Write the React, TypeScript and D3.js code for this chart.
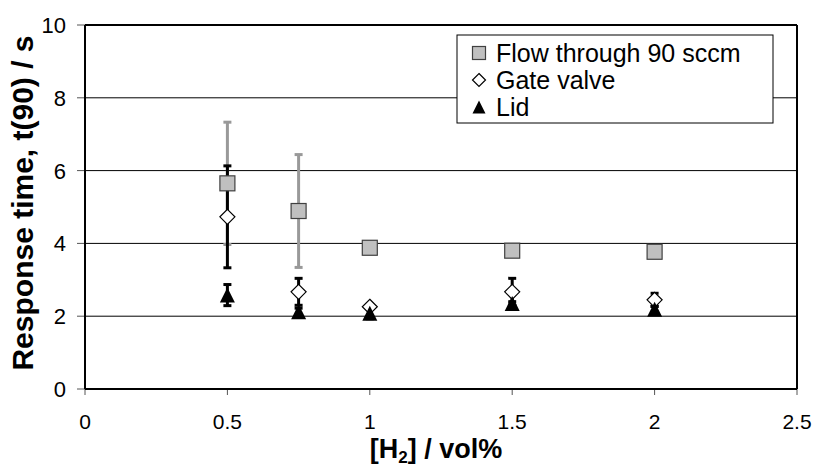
import * as d3 from 'd3';

// [H2] concentrations (vol%)
const xVals = [0.5, 0.75, 1, 1.5, 2];
// response time t(90) / s, with ± error
const flowVals = [5.65, 4.89, 3.88, 3.8, 3.77];
const flowErr = [1.68, 1.55, 0.04, 0.04, 0.04];
const gateVals = [4.73, 2.67, 2.26, 2.67, 2.45];
const gateErr = [1.4, 0.37, 0.05, 0.37, 0.18];
const lidVals = [2.58, 2.12, 2.08, 2.35, 2.19];
const lidErr = [0.29, 0.1, 0.15, 0.05, 0.08];

const xTicks = [0, 0.5, 1, 1.5, 2, 2.5];
const yTicks = [0, 2, 4, 6, 8, 10];
const legendLabels = ['Flow through 90 sccm', 'Gate valve', 'Lid'];

const W = 818;
const H = 468;
const left = 85, right = 797, top = 25, bottom = 389;
const font = "'Liberation Sans', Arial, Helvetica, sans-serif";

const x = d3.scaleLinear().domain([0, 2.5]).range([left, right]);
const y = d3.scaleLinear().domain([0, 10]).range([bottom, top]);

function ErrorBars({ vals, errs, color }: { vals: number[]; errs: number[]; color: string }) {
  return (
    <g stroke={color} strokeWidth={3}>
      {xVals.map((xv, i) => {
        const cx = x(xv);
        const y1 = y(vals[i] + errs[i]);
        const y2 = y(vals[i] - errs[i]);
        return (
          <g key={i}>
            <line x1={cx} x2={cx} y1={y1} y2={y2} />
            <line x1={cx - 4} x2={cx + 4} y1={y1} y2={y1} />
            <line x1={cx - 4} x2={cx + 4} y1={y2} y2={y2} />
          </g>
        );
      })}
    </g>
  );
}

const square = (cx: number, cy: number, s: number) => (
  <rect x={cx - s / 2} y={cy - s / 2} width={s} height={s} fill="#c0c0c0" stroke="#404040" strokeWidth={1.2} />
);
const diamond = (cx: number, cy: number, s: number) => (
  <path
    d={`M${cx},${cy - s / 2}L${cx + s / 2},${cy}L${cx},${cy + s / 2}L${cx - s / 2},${cy}Z`}
    fill="#fff"
    stroke="#000"
    strokeWidth={1.2}
  />
);
const triangle = (cx: number, cy: number, s: number) => (
  <path d={`M${cx},${cy - s / 2}L${cx + s / 2},${cy + s / 2}L${cx - s / 2},${cy + s / 2}Z`} fill="#000" />
);

export default function App() {
  const legendX = 457, legendY = 35;
  const rowBase = [62, 89, 116];
  const markers = [square, diamond, triangle];

  return (
    <svg width={W} height={H} style={{ position: 'absolute', left: 0, top: 0, background: '#fff' }} fontFamily={font}>
      {/* gridlines */}
      {yTicks.slice(1, -1).map(t => (
        <line key={t} x1={left} x2={right} y1={y(t)} y2={y(t)} stroke="#000" strokeWidth={1} />
      ))}
      {/* plot frame */}
      <line x1={left} x2={right} y1={top} y2={top} stroke="#000" strokeWidth={2} />
      <line x1={right} x2={right} y1={top} y2={bottom} stroke="#000" strokeWidth={2} />

      {/* ticks */}
      {yTicks.map(t => (
        <g key={t}>
          <line x1={left - 8} x2={left} y1={y(t)} y2={y(t)} stroke="#555" strokeWidth={1} />
          <text x={66} y={y(t) + 8} textAnchor="end" fontSize={22}>{t}</text>
        </g>
      ))}
      {xTicks.map(t => (
        <g key={t}>
          <line x1={x(t)} x2={x(t)} y1={bottom} y2={bottom + 6} stroke="#555" strokeWidth={1} />
          <text x={x(t)} y={429} textAnchor="middle" fontSize={21}>{t}</text>
        </g>
      ))}
      <line x1={left} x2={left} y1={top} y2={bottom} stroke="#000" strokeWidth={2} />
      <line x1={left} x2={right} y1={bottom} y2={bottom} stroke="#000" strokeWidth={2} />

      {/* error bars */}
      <ErrorBars vals={flowVals} errs={flowErr} color="#999999" />
      <ErrorBars vals={gateVals} errs={gateErr} color="#000" />
      <ErrorBars vals={lidVals} errs={lidErr} color="#000" />

      {/* markers */}
      {xVals.map((xv, i) => <g key={'f' + i}>{square(x(xv), y(flowVals[i]), 15)}</g>)}
      {xVals.map((xv, i) => <g key={'g' + i}>{diamond(x(xv), y(gateVals[i]), 15)}</g>)}
      {xVals.map((xv, i) => <g key={'l' + i}>{triangle(x(xv), y(lidVals[i]), 15)}</g>)}

      {/* axis titles */}
      <text
        transform={`translate(33,203) rotate(-90)`}
        textAnchor="middle"
        fontSize={30}
        fontWeight="bold"
      >
        Response time, t(90) / s
      </text>
      <text x={436} y={458} textAnchor="middle" fontSize={27} fontWeight="bold">
        [H<tspan dy={5} fontSize={17}>2</tspan><tspan dy={-5}>] / vol%</tspan>
      </text>

      {/* legend */}
      <rect x={legendX} y={legendY} width={316} height={88} fill="#fff" stroke="#000" strokeWidth={1} />
      {legendLabels.map((lab, i) => (
        <g key={lab}>
          {markers[i](479, rowBase[i] - 9, 13)}
          <text x={496} y={rowBase[i]} fontSize={25}>{lab}</text>
        </g>
      ))}
    </svg>
  );
}
